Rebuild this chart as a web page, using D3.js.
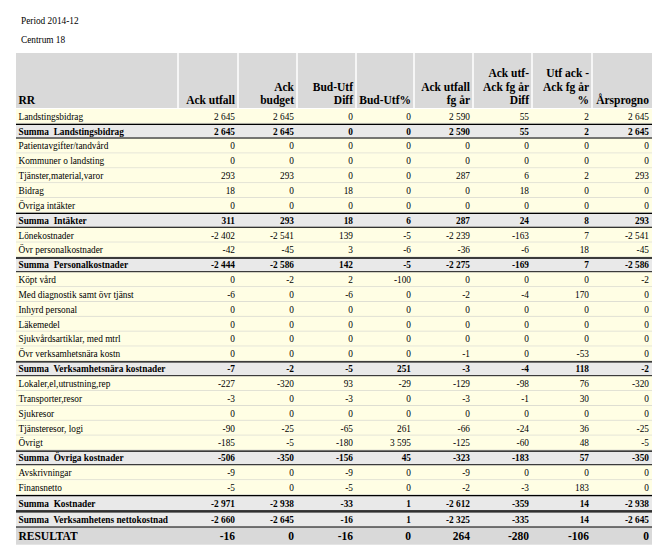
<!DOCTYPE html>
<html><head><meta charset="utf-8">
<script src="https://cdn.jsdelivr.net/npm/d3@7"></script>
<style>
body{margin:0;background:#fff;}
svg text{font-family:"Liberation Serif","Times New Roman",serif;white-space:pre;}
</style></head>
<body><div id="chart"></div>
<script>
const titleLines = ["Period 2014-12", "Centrum 18"];
const headers = [["RR"], ["Ack utfall"], ["Ack", "budget"], ["Bud-Utf", "Diff"], ["Bud-Utf%"],
  ["Ack utfall", "fg år"], ["Ack utf-", "Ack fg år", "Diff"], ["Utf ack -", "Ack fg år", "%"], ["Årsprogno"]];
const labels = ["Landstingsbidrag", "Summa  Landstingsbidrag", "Patientavgifter/tandvård", "Kommuner o landsting",
  "Tjänster,material,varor", "Bidrag", "Övriga intäkter", "Summa  Intäkter", "Lönekostnader", "Övr personalkostnader",
  "Summa  Personalkostnader", "Köpt vård", "Med diagnostik samt övr tjänst", "Inhyrd personal", "Läkemedel",
  "Sjukvårdsartiklar, med mtrl", "Övr verksamhetsnära kostn", "Summa  Verksamhetsnära kostnader",
  "Lokaler,el,utrustning,rep", "Transporter,resor", "Sjukresor", "Tjänsteresor, logi", "Övrigt",
  "Summa  Övriga kostnader", "Avskrivningar", "Finansnetto", "Summa  Kostnader",
  "Summa  Verksamhetens nettokostnad", "RESULTAT"];
const rowTypes = ["d","s","d","d","d","d","d","s","d","d","s","d","d","d","d","d","d","s","d","d","d","d","d","s","d","d","s","s","r"];
const ackUtfall   = [2645, 2645, 0, 0, 293, 18, 0, 311, -2402, -42, -2444, 0, -6, 0, 0, 0, 0, -7, -227, -3, 0, -90, -185, -506, -9, -5, -2971, -2660, -16];
const ackBudget   = [2645, 2645, 0, 0, 293, 0, 0, 293, -2541, -45, -2586, -2, 0, 0, 0, 0, 0, -2, -320, 0, 0, -25, -5, -350, 0, 0, -2938, -2645, 0];
const budUtfDiff  = [0, 0, 0, 0, 0, 18, 0, 18, 139, 3, 142, 2, -6, 0, 0, 0, 0, -5, 93, -3, 0, -65, -180, -156, -9, -5, -33, -16, -16];
const budUtfPct   = [0, 0, 0, 0, 0, 0, 0, 6, -5, -6, -5, -100, 0, 0, 0, 0, 0, 251, -29, 0, 0, 261, 3595, 45, 0, 0, 1, 1, 0];
const ackUtfallFg = [2590, 2590, 0, 0, 287, 0, 0, 287, -2239, -36, -2275, 0, -2, 0, 0, 0, -1, -3, -129, -3, 0, -66, -125, -323, -9, -2, -2612, -2325, 264];
const fgDiff      = [55, 55, 0, 0, 6, 18, 0, 24, -163, -6, -169, 0, -4, 0, 0, 0, 0, -4, -98, -1, 0, -24, -60, -183, 0, -3, -359, -335, -280];
const fgPct       = [2, 2, 0, 0, 2, 0, 0, 8, 7, 18, 7, 0, 170, 0, 0, 0, -53, 118, 76, 30, 0, 36, 48, 57, 0, 183, 14, 14, -106];
const arsprognos  = [2645, 2645, 0, 0, 293, 0, 0, 293, -2541, -45, -2586, -2, 0, 0, 0, 0, 0, -2, -320, 0, 0, -25, -5, -350, 0, 0, -2938, -2645, 0];
const valueCols = [ackUtfall, ackBudget, budUtfDiff, budUtfPct, ackUtfallFg, fgDiff, fgPct, arsprognos];

// layout
const W = 663, H = 555;
const colEdges = [16, 178, 238, 297, 356, 414, 473, 532, 592, 652];
const headerTop = 53, headerBottom = 108;
const fmt = d3.formatLocale({decimal: ",", thousands: "\u00a0", grouping: [3], currency: ["", ""], minus: "-"}).format(",d");

const rows = labels.map((l, i) => ({label: l, type: rowTypes[i], values: valueCols.map(c => c[i])}));
// row heights
let y = headerBottom + 1;
rows.forEach((r, i) => {
  const h = r.type === "r" ? 17 : (i >= 26 ? 16.3 : 14.85);
  r.y = y; r.h = h; y += h;
});

const x = d3.scaleOrdinal().domain(d3.range(colEdges.length)).range(colEdges);

const svg = d3.select("#chart").append("svg").attr("width", W).attr("height", H);

svg.selectAll("text.title").data(titleLines).join("text").attr("class", "title")
  .attr("x", 21).attr("y", (d, i) => 24 + i * 19).attr("font-size", "9.3px").text(d => d);

// header
svg.append("rect").attr("x", colEdges[0]).attr("y", headerTop).attr("width", colEdges[9] - colEdges[0])
  .attr("height", headerBottom - headerTop).attr("fill", "#d9d9d9");
svg.selectAll("line.hsep").data(colEdges.slice(1, 9)).join("line").attr("class", "hsep")
  .attr("x1", d => d).attr("x2", d => d).attr("y1", headerTop).attr("y2", headerBottom)
  .attr("stroke", "#fff").attr("stroke-width", 1.5);
const hg = svg.selectAll("g.hcell").data(headers).join("g").attr("class", "hcell");
hg.selectAll("text").data((d, ci) => d.map((t, li) => ({t, ci, li, n: d.length}))).join("text")
  .attr("x", d => d.ci === 0 ? x(0) + 2.5 : x(d.ci + 1) - 3)
  .attr("y", d => 104 - (d.n - 1 - d.li) * 13.5)
  .attr("text-anchor", d => d.ci === 0 ? "start" : "end")
  .attr("font-size", "11.5px").attr("font-weight", "bold").text(d => d.t);

// rows
const bg = {d: "#fffee4", s: "#e9e9e9", r: "#d9d9d9"};
const rg = svg.selectAll("g.row").data(rows).join("g").attr("class", "row")
  .attr("transform", d => `translate(0,${d.y})`);
rg.append("rect").attr("x", colEdges[0]).attr("y", 0).attr("width", colEdges[9] - colEdges[0])
  .attr("height", d => d.h).attr("fill", d => bg[d.type]);
rg.filter(d => d.type === "d").append("line").attr("x1", colEdges[0]).attr("x2", colEdges[9])
  .attr("y1", d => d.h - 0.5).attr("y2", d => d.h - 0.5).attr("stroke", "#deded2").attr("stroke-width", 1);
rg.filter(d => d.type === "s").append("line").attr("x1", colEdges[0]).attr("x2", colEdges[9])
  .attr("y1", 0.5).attr("y2", 0.5).attr("stroke", "#000").attr("stroke-width", 1.3);
rg.filter(d => d.type === "s").append("line").attr("x1", colEdges[0]).attr("x2", colEdges[9])
  .attr("y1", d => d.h - 0.5).attr("y2", d => d.h - 0.5).attr("stroke", "#000").attr("stroke-width", 1.3);

const fs = t => t === "r" ? "11.5px" : "9.3px";
rg.append("text").attr("x", x(0) + 2.5).attr("y", d => d.h / 2 + (d.type === "r" ? 4 : 3.3))
  .attr("font-size", d => fs(d.type)).attr("font-weight", d => d.type === "d" ? "normal" : "bold")
  .text(d => d.label);
rg.selectAll("text.v").data(d => d.values.map((v, ci) => ({v, ci, row: d}))).join("text").attr("class", "v")
  .attr("x", d => x(d.ci + 2) - 3).attr("y", d => d.row.h / 2 + (d.row.type === "r" ? 4 : 3.3))
  .attr("text-anchor", "end").attr("font-size", d => fs(d.row.type))
  .attr("font-weight", d => d.row.type === "d" ? "normal" : "bold").text(d => fmt(d.v));
</script></body></html>
